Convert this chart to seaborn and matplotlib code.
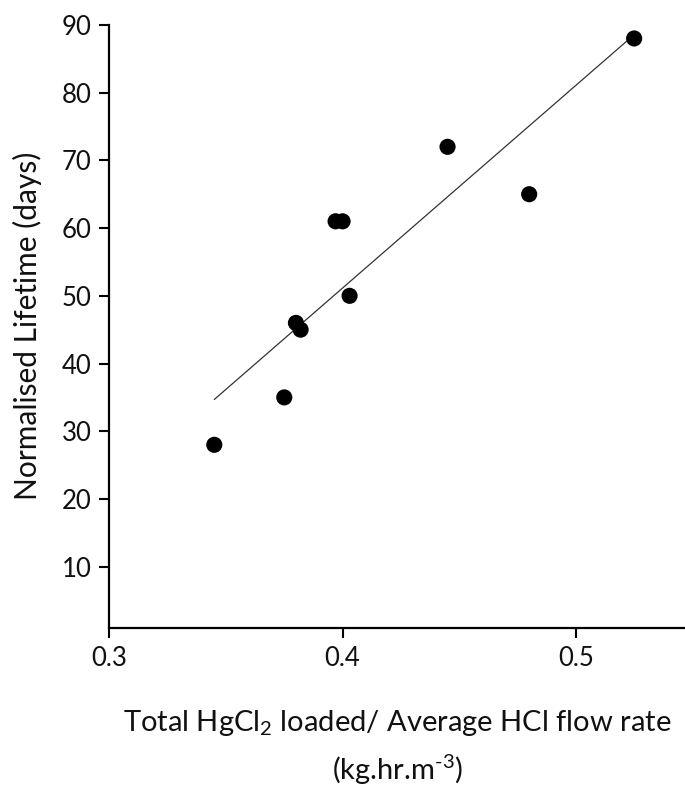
import matplotlib
matplotlib.use("Agg")
import matplotlib.pyplot as plt
import seaborn as sns
import pandas as pd

# Data
ratio = [0.345, 0.375, 0.380, 0.382, 0.397, 0.400, 0.403, 0.445, 0.480, 0.525]
lifetime = [28, 35, 46, 45, 61, 61, 50, 72, 65, 88]
xticks = [0.3, 0.4, 0.5]
xticklabels = ["0.3", "0.4", "0.5"]
yticks = [10, 20, 30, 40, 50, 60, 70, 80, 90]

df = pd.DataFrame({"ratio": ratio, "lifetime": lifetime})

sns.set_theme(style="ticks")
plt.rcParams["font.family"] = ["Lato", "DejaVu Sans"]
plt.rcParams["mathtext.fontset"] = "custom"
plt.rcParams["mathtext.rm"] = "Lato"
plt.rcParams["mathtext.it"] = "Lato"
plt.rcParams["mathtext.default"] = "regular"
plt.rcParams["axes.unicode_minus"] = False

fig = plt.figure(figsize=(6.85, 7.91), dpi=100)
ax = fig.add_axes([0.1596, 0.2065, 0.8404, 0.762])

sns.regplot(data=df, x="ratio", y="lifetime", ci=None, ax=ax, truncate=True,
            scatter_kws=dict(s=135, color="black", edgecolor="none", zorder=3, alpha=1),
            line_kws=dict(color="#333333", lw=0.9))

ax.set_xlim(0.3, 0.5468)
ax.set_ylim(1, 90)
ax.set_xticks(xticks)
ax.set_xticklabels(xticklabels)
ax.set_yticks(yticks)
ax.tick_params(axis="both", labelsize=18.5, length=7, width=1.5, color="black",
               labelcolor="#111111", direction="out", pad=6)
for s in ["top", "right"]:
    ax.spines[s].set_visible(False)
for s in ["left", "bottom"]:
    ax.spines[s].set_linewidth(1.6)
    ax.spines[s].set_color("black")

ax.set_ylabel("Normalised Lifetime (days)", fontsize=21.5, labelpad=14, color="#111111")
ax.set_xlabel("Total HgCl$_2$ loaded/ Average HCl flow rate\n(kg.hr.m$^{‐3}$)",
              fontsize=21, labelpad=27, linespacing=1.55, color="#111111")

fig.savefig("out.png", dpi=100)
